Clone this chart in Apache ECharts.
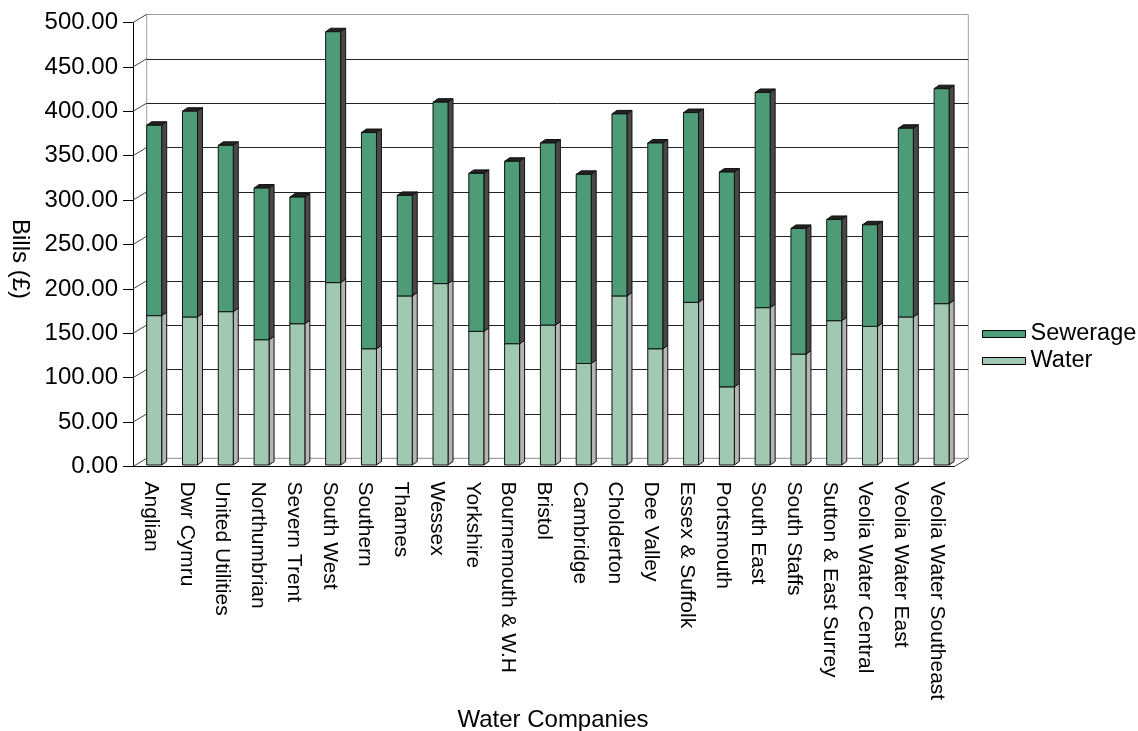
<!DOCTYPE html>
<html>
<head>
<meta charset="utf-8">
<title>Water Companies Bills</title>
<script src="https://cdn.jsdelivr.net/npm/echarts@6/dist/echarts.min.js"></script>
<style>
    html, body { margin: 0; padding: 0; background: #fff; }
    #chart { width: 1138px; height: 731px; }
</style>
</head>
<body>
<div id="chart"></div>
<script>
// categories
var companies = ['Anglian', 'Dwr Cymru', 'United Utilities', 'Northumbrian', 'Severn Trent',
    'South West', 'Southern', 'Thames', 'Wessex', 'Yorkshire', 'Bournemouth & W.H',
    'Bristol', 'Cambridge', 'Cholderton', 'Dee Valley', 'Essex & Suffolk', 'Portsmouth',
    'South East', 'South Staffs', 'Sutton & East Surrey', 'Veolia Water Central',
    'Veolia Water East', 'Veolia Water Southeast'];
// water part of the bill
var water = [168.2, 166.7, 172.7, 141.1, 159.1, 205.4, 130.9, 190.4, 204.3, 150.5, 136.6,
    157.6, 114.3, 190.4, 130.9, 183.2, 88.0, 177.2, 124.9, 162.5, 156.1, 166.7, 181.7];
// sewerage part of the bill
var sewerage = [214.4, 231.7, 187.3, 170.8, 142.6, 282.5, 243.5, 113.2, 204.3, 177.9, 205.4,
    205.0, 213.0, 205.0, 231.7, 213.7, 241.9, 242.3, 141.5, 114.0, 114.4, 212.5, 242.1];
// y axis ticks
var yTicks = [0, 50, 100, 150, 200, 250, 300, 350, 400, 450, 500];

var FONT = 'Liberation Sans, Arial, sans-serif';
var C_SEW = '#4e9b78', C_WAT = '#a1c8b2';

// bar 3D look: front face, side face, top cap
function bar3d(front, side, cap) {
    return function (params, api) {
        var i = api.value(0);
        var lo = api.coord([i, api.value(1)]);
        var hi = api.coord([i, api.value(2)]);
        var w = 15, dx = 5, dy = 3.5;
        var x0 = lo[0] - w / 2, x1 = x0 + w, yb = lo[1], yt = hi[1];
        var st = {stroke: '#111', lineWidth: 1};
        return {
            type: 'group',
            children: [
                {type: 'polygon', shape: {points: [[x0, yt], [x1, yt], [x1 + dx, yt - dy], [x0 + dx, yt - dy]]},
                    style: Object.assign({fill: cap}, st)},
                {type: 'polygon', shape: {points: [[x1, yb], [x1 + dx, yb - dy], [x1 + dx, yt - dy], [x1, yt]]},
                    style: Object.assign({fill: side}, st)},
                {type: 'rect', shape: {x: x0, y: yt, width: w, height: yb - yt},
                    style: Object.assign({fill: front}, st)}
            ]
        };
    };
}

// slanted lines of the left wall / floor
function wallLines(params, api) {
    var cs = params.coordSys;
    var y = api.coord([0, api.value(1)])[1];
    var kids = [{type: 'line', shape: {x1: cs.x, y1: y, x2: cs.x + 13.7, y2: y - 8.2},
        style: {stroke: '#444', lineWidth: 1}}];
    if (api.value(1) === 0) {
        kids.push({type: 'line', shape: {x1: cs.x + cs.width, y1: y, x2: cs.x + cs.width + 13.7, y2: y - 8.2},
            style: {stroke: '#444', lineWidth: 1}});
    }
    return {type: 'group', children: kids};
}

var splitColors = yTicks.map(function (v) { return (v === 0 || v === 500) ? '#a0a0a0' : '#222'; });

var myChart = echarts.init(document.getElementById('chart'), null, {renderer: 'canvas'});
var option = {
    backgroundColor: '#fff',
    animation: false,
    textStyle: {fontFamily: FONT},
    grid: [
        // front (axes)
        {left: 133, right: 183.5, top: 22.5, bottom: 264.5},
        // back wall
        {left: 146.7, right: 169.7, top: 14.5, bottom: 272.7, show: true, borderColor: '#a0a0a0', borderWidth: 1},
        // bars
        {left: 136.3, right: 178.5, top: 21, bottom: 266}
    ],
    xAxis: [
        {
            type: 'category', gridIndex: 0, data: companies, boundaryGap: true,
            axisLine: {lineStyle: {color: '#000', width: 1}},
            axisTick: {length: 10, lineStyle: {color: '#000'}},
            axisLabel: {rotate: -90, margin: 15, fontSize: 21, color: '#000', fontFamily: FONT, interval: 0}
        },
        {type: 'category', gridIndex: 1, data: companies, show: false},
        {type: 'category', gridIndex: 2, data: companies, show: false}
    ],
    yAxis: [
        {
            type: 'value', gridIndex: 0, min: 0, max: 500, interval: 50,
            axisLine: {show: true, lineStyle: {color: '#000', width: 1}},
            axisTick: {show: true, length: 10, lineStyle: {color: '#000'}},
            axisLabel: {margin: 15, fontSize: 24, color: '#000', fontFamily: FONT,
                formatter: function (v) { return v.toFixed(2); }},
            splitLine: {show: false}
        },
        {
            type: 'value', gridIndex: 1, min: 0, max: 500, interval: 50,
            axisLine: {show: false}, axisTick: {show: false}, axisLabel: {show: false},
            splitLine: {show: true, lineStyle: {color: splitColors, width: 1}}
        },
        {type: 'value', gridIndex: 2, min: 0, max: 500, show: false, splitLine: {show: false}}
    ],
    legend: {
        orient: 'vertical', left: 982, top: 322, padding: 0, itemWidth: 43, itemHeight: 7, itemGap: 3,
        icon: 'rect',
        textStyle: {fontSize: 23.5, color: '#000', fontFamily: FONT},
        data: [
            {name: 'Sewerage', itemStyle: {color: C_SEW, borderColor: '#000', borderWidth: 1}},
            {name: 'Water', itemStyle: {color: C_WAT, borderColor: '#000', borderWidth: 1}}
        ]
    },
    graphic: [
        {type: 'text', x: 20, y: 259, rotation: -Math.PI / 2,
            style: {text: 'Bills (£)', font: '24px ' + FONT, fill: '#000', align: 'center', verticalAlign: 'middle'}},
        {type: 'text', x: 553, y: 720,
            style: {text: 'Water Companies', font: '24px ' + FONT, fill: '#000', align: 'center', verticalAlign: 'middle'}}
    ],
    series: [
        {
            name: 'Walls', type: 'custom', xAxisIndex: 0, yAxisIndex: 0,
            renderItem: wallLines, silent: true,
            data: yTicks.map(function (v) { return [0, v]; })
        },
        {
            name: 'Water', type: 'custom', xAxisIndex: 2, yAxisIndex: 2,
            itemStyle: {color: C_WAT},
            renderItem: bar3d(C_WAT, '#b4b4b4', '#8aa898'),
            data: water.map(function (v, i) { return [i, 0, v]; })
        },
        {
            name: 'Sewerage', type: 'custom', xAxisIndex: 2, yAxisIndex: 2,
            itemStyle: {color: C_SEW},
            renderItem: bar3d(C_SEW, '#484848', '#222222'),
            data: sewerage.map(function (v, i) { return [i, water[i], water[i] + v]; })
        }
    ]
};
myChart.setOption(option);
</script>
</body>
</html>
